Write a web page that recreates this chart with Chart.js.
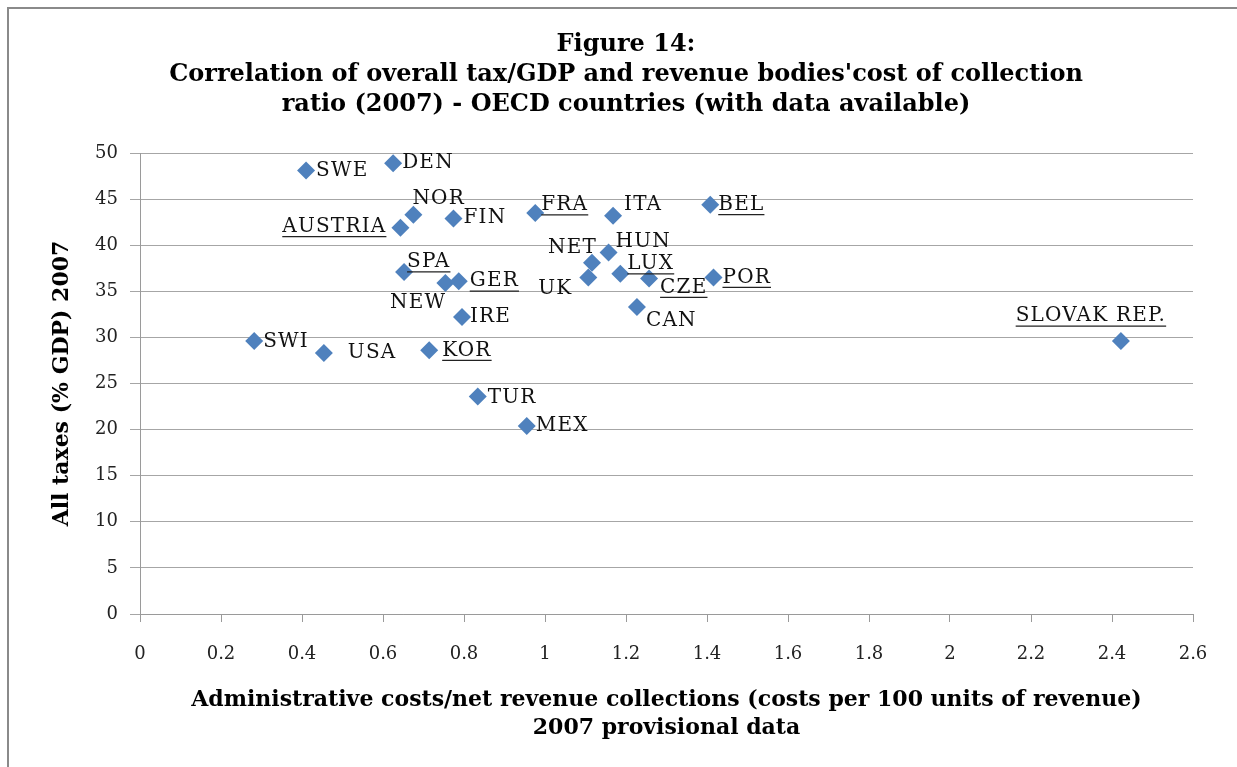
<!DOCTYPE html>
<html>
<head>
<meta charset="utf-8">
<script src="https://cdn.jsdelivr.net/npm/chart.js@4.4.1/dist/chart.umd.min.js"></script>
<style>
  html, body { margin: 0; padding: 0; background: #ffffff; }
  #wrap { position: relative; width: 1237px; height: 767px; }
  #frame { position: absolute; left: 7px; top: 7px; width: 1260px; height: 800px;
           border-left: 2px solid #8a8a8a; border-top: 2px solid #8a8a8a; pointer-events: none; }
  canvas { position: absolute; left: 0; top: 0; }
</style>
</head>
<body>
<div id="wrap">
  <canvas id="chart" width="1237" height="767"></canvas>
  <div id="frame"></div>
</div>
<script>
// OECD countries, 2007
const countries = ['SWE', 'DEN', 'NOR', 'AUSTRIA', 'FIN', 'SPA', 'NEW', 'GER', 'IRE', 'SWI',
                   'USA', 'KOR', 'TUR', 'MEX', 'FRA', 'ITA', 'BEL', 'HUN', 'NET', 'UK',
                   'LUX', 'CZE', 'POR', 'CAN', 'SLOVAK REP.'];
// Administrative costs per 100 units of net revenue (2007 provisional)
const costRatio = [0.41, 0.625, 0.675, 0.643, 0.774, 0.652, 0.754, 0.787, 0.795, 0.282,
                   0.454, 0.714, 0.834, 0.955, 0.976, 1.168, 1.408, 1.157, 1.116, 1.107,
                   1.186, 1.257, 1.416, 1.227, 2.422];
// All taxes as % of GDP, 2007
const taxGdp = [48.1, 48.9, 43.3, 41.9, 42.9, 37.1, 35.9, 36.1, 32.2, 29.6,
                28.3, 28.6, 23.6, 20.4, 43.5, 43.2, 44.4, 39.2, 38.1, 36.5,
                36.9, 36.4, 36.5, 33.3, 29.6];
// Labels shown underlined
const underlined = ['AUSTRIA', 'SPA', 'GER', 'KOR', 'FRA', 'BEL', 'LUX', 'CZE', 'POR', 'SLOVAK REP.'];

// Axis ranges and tick spacing
const xMin = 0, xMax = 2.6, xStep = 0.2;
const yMin = 0, yMax = 50, yStep = 5;

const titleLines = ['Figure 14:',
  "Correlation of overall tax/GDP and revenue bodies'cost of collection",
  'ratio (2007) - OECD countries (with data available)'];
const xTitle = ['Administrative costs/net revenue collections (costs per 100 units of revenue)',
  '2007 provisional data'];
const yTitle = 'All taxes (% GDP) 2007';

// Where each country label sits relative to its marker: [dx, dy, align]
const labelPlacement = {
  'SWE': [10, 0, 'left'], 'DEN': [9, 0, 'left'], 'NOR': [-1, -16, 'left'],
  'AUSTRIA': [-14, -1, 'right'], 'FIN': [10, -1, 'left'], 'SPA': [3, -10, 'left'],
  'NEW': [1, 20, 'right'], 'GER': [11, 0, 'left'], 'IRE': [8, 0, 'left'],
  'SWI': [9, 1, 'left'], 'USA': [24, 0, 'left'], 'KOR': [13, 0, 'left'],
  'TUR': [10, 1, 'left'], 'MEX': [9, 0, 'left'], 'FRA': [6, -8, 'left'],
  'ITA': [11, -11, 'left'], 'BEL': [8, 0, 'left'], 'HUN': [7, -11, 'left'],
  'NET': [5, -15, 'right'], 'UK': [-16, 11, 'right'], 'LUX': [7, -10, 'left'],
  'CZE': [11, 9, 'left'], 'POR': [9, 0, 'left'], 'CAN': [9, 14, 'left'],
  'SLOVAK REP.': [-30, -25, 'center']
};

const points = countries.map((c, i) => ({ x: costRatio[i], y: taxGdp[i], label: c }));

const pointLabels = {
  id: 'pointLabels',
  afterDatasetsDraw(chart) {
    const ctx = chart.ctx;
    const meta = chart.getDatasetMeta(0);
    ctx.save();
    ctx.font = '20px "DejaVu Serif"';
    ctx.letterSpacing = '1.2px';
    ctx.fillStyle = '#111111';
    ctx.strokeStyle = '#222222';
    ctx.lineWidth = 1.3;
    ctx.textBaseline = 'middle';
    meta.data.forEach((el, i) => {
      const name = countries[i];
      const [dx, dy, align] = labelPlacement[name] || [10, 0, 'left'];
      ctx.textAlign = align;
      const tx = el.x + dx, ty = el.y + dy;
      ctx.fillText(name, tx, ty);
      if (underlined.includes(name)) {
        const w = ctx.measureText(name).width;
        let x0 = tx;
        if (align === 'right') x0 = tx - w;
        else if (align === 'center') x0 = tx - w / 2;
        ctx.beginPath();
        ctx.moveTo(x0, ty + 10);
        ctx.lineTo(x0 + w, ty + 10);
        ctx.stroke();
      }
    });
    ctx.restore();
  }
};

new Chart(document.getElementById('chart'), {
  type: 'scatter',
  data: {
    datasets: [{
      data: points,
      pointStyle: 'rectRot',
      pointRadius: 9,
      pointHoverRadius: 9,
      backgroundColor: '#4F81BD',
      borderColor: '#4F81BD',
      borderWidth: 0
    }]
  },
  options: {
    responsive: false,
    animation: false,
    // left padding shifts the centred title box; the y scale keeps the plot edge at x=140
    layout: { padding: { left: 59, right: 44, top: 0, bottom: 0 } },
    plugins: {
      legend: { display: false },
      tooltip: { enabled: false },
      title: {
        display: true,
        text: titleLines,
        color: '#000000',
        font: { family: 'DejaVu Serif', size: 24, weight: 'bold', lineHeight: '30px' },
        padding: { top: 30, bottom: 33 }
      }
    },
    scales: {
      x: {
        type: 'linear',
        min: xMin, max: xMax,
        afterFit(scale) { scale.height = 153; },
        ticks: { stepSize: xStep, color: '#222222', padding: 22,
                 font: { family: 'DejaVu Serif', size: 18 },
                 callback: (v) => String(Number(v.toFixed(1))) },
        grid: { drawOnChartArea: false, drawTicks: true, tickLength: 8, color: '#9a9a9a' },
        border: { color: '#9a9a9a', width: 1 },
        title: { display: true, text: xTitle, color: '#000000',
                 font: { family: 'DejaVu Serif', size: 22, weight: 'bold', lineHeight: '28px' },
                 padding: { top: 0, bottom: 25 } }
      },
      y: {
        type: 'linear',
        min: yMin, max: yMax,
        afterFit(scale) { scale.width = 81; },
        ticks: { stepSize: yStep, color: '#222222', padding: 12,
                 font: { family: 'DejaVu Serif', size: 18 } },
        grid: { drawTicks: true, tickLength: 10, color: '#a6a6a6' },
        border: { color: '#9a9a9a', width: 1 },
        title: { display: true, text: yTitle, color: '#000000',
                 font: { family: 'DejaVu Serif', size: 22, weight: 'bold', lineHeight: '26px' },
                 padding: { top: -10, bottom: 0 } }
      }
    }
  },
  plugins: [pointLabels]
});
</script>
</body>
</html>
